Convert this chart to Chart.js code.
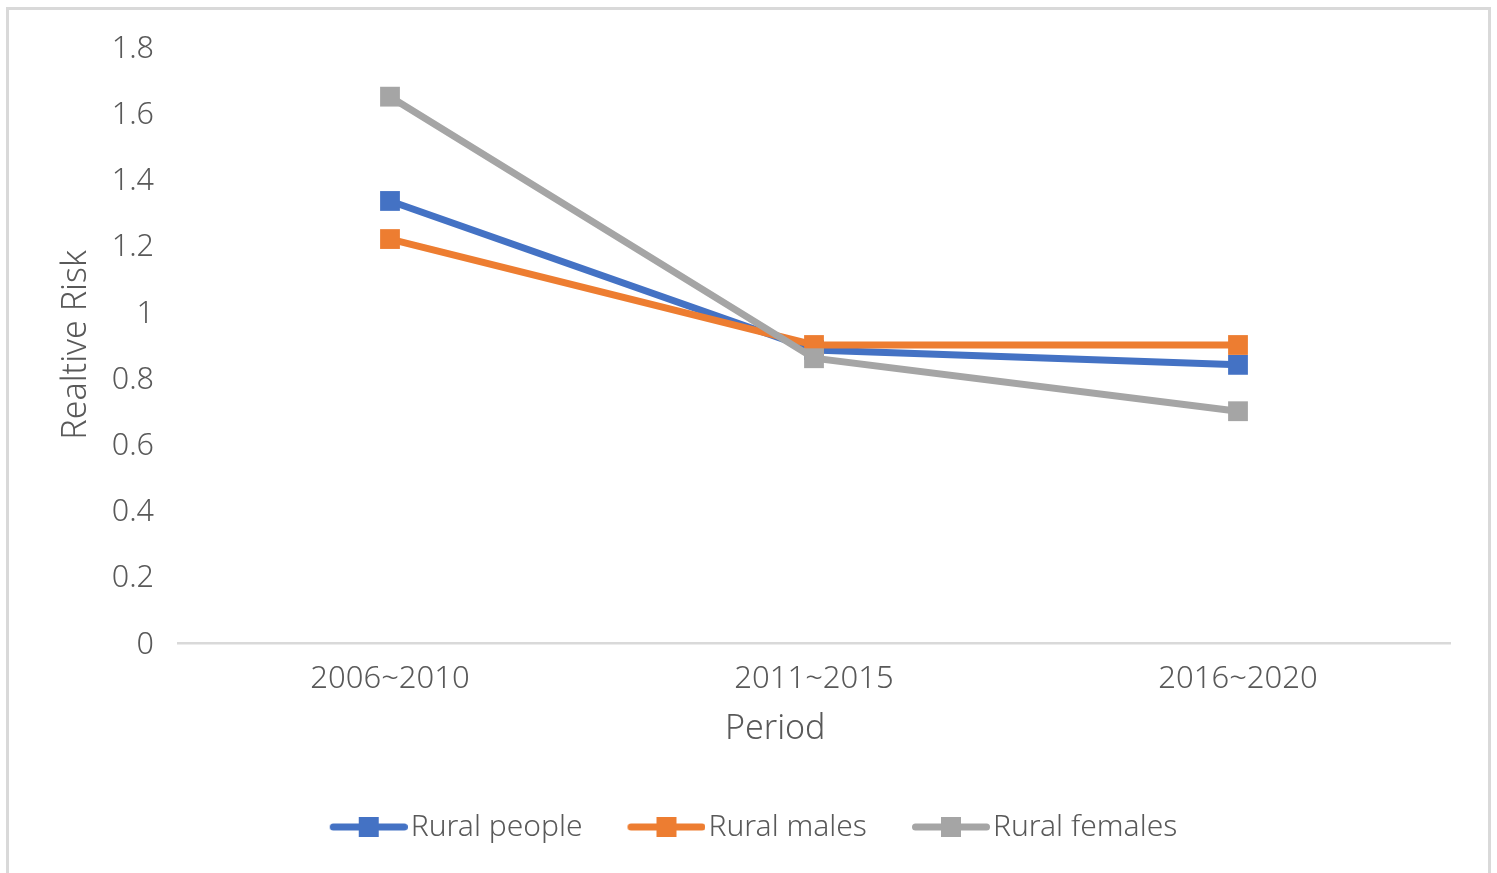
<!DOCTYPE html>
<html>
<head>
<meta charset="utf-8">
<script src="https://cdn.jsdelivr.net/npm/chart.js@4/dist/chart.umd.min.js"></script>
<style>
  html, body { margin: 0; padding: 0; background: #ffffff; overflow: hidden; }
  #frame {
    position: absolute; left: 6px; top: 7px; width: 1485px; height: 900px;
    box-sizing: border-box; border: 3px solid #d9d9d9; pointer-events: none;
  }
  #wrap { position: absolute; left: 0; top: 0; width: 1497px; height: 873px; }
</style>
</head>
<body>
<div id="frame"></div>
<div id="wrap"><canvas id="rr"></canvas></div>
<script>
// Relative risk by period
const periods = ['2006~2010', '2011~2015', '2016~2020'];
const ruralPeople = [1.335, 0.885, 0.84];
const ruralMales = [1.22, 0.90, 0.90];
const ruralFemales = [1.65, 0.86, 0.70];
const seriesNames = ['Rural people', 'Rural males', 'Rural females'];
const seriesColors = ['#4472C4', '#ED7D31', '#A5A5A5'];

const TEXT = '#595959';
const FONT = '"Noto Sans", "DejaVu Sans", sans-serif';

// Legend symbol: a short thick line with a square marker in the middle
function legendSymbol(color) {
  const c = document.createElement('canvas');
  c.width = 115; c.height = 22;
  const g = c.getContext('2d');
  g.strokeStyle = color;
  g.lineWidth = 7;
  g.lineCap = 'round';
  g.beginPath();
  g.moveTo(40.5, 11);
  g.lineTo(111.5, 11);
  g.stroke();
  g.fillStyle = color;
  g.fillRect(76 - 10, 1, 20, 20);
  return c;
}
const symbols = seriesColors.map(legendSymbol);

function series(label, data, color, order) {
  return {
    label, data, order,
    borderColor: color,
    backgroundColor: color,
    borderWidth: 7,
    pointStyle: 'rect',
    pointRadius: 14,
    pointHoverRadius: 14,
    pointBorderWidth: 0,
    pointBackgroundColor: color,
    tension: 0,
    fill: false
  };
}

// Horizontal axis title, placed as a fraction of the plot width below the axis
const xAxisTitle = {
  id: 'xAxisTitle',
  afterDraw(chart, args, opts) {
    const { ctx, chartArea: a, scales: { x } } = chart;
    ctx.save();
    ctx.font = `300 ${opts.size}px ${FONT}`;
    ctx.fillStyle = TEXT;
    ctx.textAlign = 'center';
    ctx.textBaseline = 'middle';
    ctx.fillText(opts.text, a.left + (a.right - a.left) * opts.at, x.bottom - opts.offset);
    ctx.restore();
  }
};

new Chart(document.getElementById('rr'), {
  type: 'line',
  data: {
    labels: periods,
    datasets: [
      series(seriesNames[0], ruralPeople, seriesColors[0], 2),
      series(seriesNames[1], ruralMales, seriesColors[1], 1),
      series(seriesNames[2], ruralFemales, seriesColors[2], 0)
    ]
  },
  plugins: [xAxisTitle],
  options: {
    responsive: true,
    maintainAspectRatio: false,
    animation: false,
    layout: { padding: { left: 32, right: 47, top: 47, bottom: 21 } },
    plugins: {
      tooltip: { enabled: false },
      xAxisTitle: { text: 'Period', size: 34, at: 0.4695, offset: 62.5 },
      legend: {
        position: 'bottom',
        align: 'center',
        labels: {
          usePointStyle: true,
          pointStyleWidth: 91,
          padding: 20,
          color: TEXT,
          font: { family: FONT, size: 30, weight: '300' },
          sort: (a, b) => a.datasetIndex - b.datasetIndex,
          generateLabels(chart) {
            const items = Chart.defaults.plugins.legend.labels.generateLabels(chart);
            items.forEach(it => { it.pointStyle = symbols[it.datasetIndex]; it.fontColor = TEXT; });
            return items;
          }
        }
      }
    },
    scales: {
      x: {
        offset: true,
        grid: { display: false },
        border: { display: true, color: '#d9d9d9', width: 2.5 },
        ticks: { color: TEXT, padding: 10, maxRotation: 0, font: { family: FONT, size: 31, weight: '300' } },
        title: { display: false },
        afterFit(scale) { scale.height = 149; }
      },
      y: {
        min: 0,
        max: 1.8,
        grid: { display: false },
        border: { display: false },
        ticks: {
          stepSize: 0.2,
          color: TEXT,
          padding: 16,
          labelOffset: 2,
          font: { family: FONT, size: 30.5, weight: '300' },
          callback: v => String(Number(v.toFixed(1)))
        },
        title: {
          display: true, text: 'Realtive Risk', color: TEXT,
          font: { family: FONT, size: 34, weight: '300' },
          padding: { top: 23.6, bottom: 0 }
        },
        afterFit(scale) { scale.width = 146; }
      }
    }
  }
});
</script>
</body>
</html>
